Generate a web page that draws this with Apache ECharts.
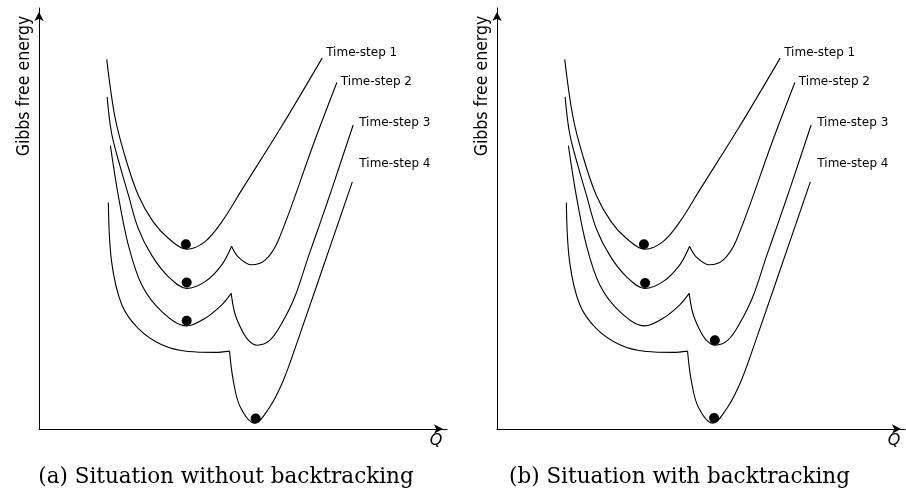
<!DOCTYPE html>
<html>
<head>
<meta charset="utf-8">
<script src="https://cdn.jsdelivr.net/npm/echarts@6/dist/echarts.min.js"></script>
<style>
html,body{margin:0;padding:0;background:#fff;}
#chart{width:906px;height:492px;}
</style>
</head>
<body>
<div id="chart"></div>
<script>
// ---- data (Q, Gibbs free energy) in arbitrary units 0..100 ----
const stepLabels = ['Time-step 1', 'Time-step 2', 'Time-step 3', 'Time-step 4'];
const captions = ['(a) Situation without backtracking', '(b) Situation with backtracking'];
const xAxisName = 'Q';
const yAxisName = 'Gibbs free energy';

const curve1 = [[16.6,87.8],[18.6,74.2],[21.1,64.7],[24.3,55.6],[28.0,49.2],[31.7,45.3],[36.2,42.7],[40.7,44.5],[44.8,49.2],[49.7,56.8],[59.1,71.3],[69.4,88.1]];

const curve2Left = [[16.7,78.9],[17.8,70.2],[19.9,62.3],[21.9,55.6],[24.3,47.7],[27.6,41.3],[31.7,36.2],[36.2,33.4],[40.7,35.0],[44.8,39.0],[47.2,43.4]];
const curve2Right = [[47.2,43.4],[48.8,40.9],[52.1,39.0],[55.4,40.1],[58.7,44.9],[67.5,68.3],[73.0,82.3]];

const curve3Left = [[17.5,67.3],[19.4,55.6],[21.9,43.7],[25.2,34.2],[30.1,27.9],[36.2,24.5],[40.7,26.3],[44.8,29.5],[47.1,32.2]];
const curve3Right = [[47.1,32.2],[48.0,27.5],[49.7,23.5],[51.3,21.1],[53.4,19.9],[56.6,21.1],[59.5,25.1],[62.7,31.4],[66.0,40.9],[68.9,48.9],[71.7,56.8],[77.0,72.2]];

const curve4Left = [[17.0,53.8],[17.8,39.7],[20.3,29.5],[24.3,23.9],[30.1,20.0],[36.6,18.4],[43.1,18.2],[46.7,18.5]];
const curve4Right = [[46.7,18.5],[47.6,11.6],[49.3,5.3],[52.9,1.4],[56.6,5.3],[59.9,11.6],[63.2,20.4],[76.8,58.7]];

const dotsA = [[36.0,43.9],[36.2,34.8],[36.2,25.7],[53.1,2.5]];
const dotsB = [[36.0,43.9],[36.3,34.7],[53.4,21.1],[53.2,2.6]];

// ---- layout / style ----
const panels = [
  {left: 39, dots: dotsA, caption: captions[0], capX: 221},
  {left: 497, dots: dotsB, caption: captions[1], capX: 674.5}
];
const labelOffsets = [[-1,-5],[-1,-1],[1,-2],[2,-18]];
const curves = [
  [curve1],
  [curve2Left, curve2Right],
  [curve3Left, curve3Right],
  [curve4Left, curve4Right]
];

const grids = [], xAxes = [], yAxes = [], series = [], titles = [];
panels.forEach(function (p, pi) {
  grids.push({left: p.left, top: 8, width: 408, height: 421, containLabel: false});
  xAxes.push({
    type: 'value', gridIndex: pi, min: 0, max: 100,
    axisLine: {show: true, onZero: false, symbol: ['none', 'arrow'], symbolSize: [7, 9], symbolOffset: [0, -4],
      lineStyle: {color: '#000', width: 1}},
    axisTick: {show: false}, axisLabel: {show: false}, splitLine: {show: false},
    name: xAxisName, nameLocation: 'end', nameGap: -11,
    nameTextStyle: {color: '#000', fontFamily: 'DejaVu Sans', fontStyle: 'italic', fontSize: 16,
      align: 'center', verticalAlign: 'top', padding: [4, 0, 0, 0]}
  });
  yAxes.push({
    type: 'value', gridIndex: pi, min: 0, max: 100,
    axisLine: {show: true, onZero: false, symbol: ['none', 'arrow'], symbolSize: [7, 9], symbolOffset: [0, -4],
      lineStyle: {color: '#000', width: 1}},
    axisTick: {show: false}, axisLabel: {show: false}, splitLine: {show: false},
    name: yAxisName, nameLocation: 'end', nameRotate: 90, nameGap: -78,
    nameTextStyle: {color: '#000', fontFamily: 'DejaVu Sans Condensed, DejaVu Sans', fontSize: 17.5,
      align: 'center', verticalAlign: 'bottom', padding: [0, 0, 6, 0]}
  });
  curves.forEach(function (segs, ci) {
    segs.forEach(function (seg, si) {
      const isLast = si === segs.length - 1;
      series.push({
        type: 'line', xAxisIndex: pi, yAxisIndex: pi, data: seg,
        name: stepLabels[ci],
        smooth: 0.35, showSymbol: false, symbol: 'none',
        lineStyle: {color: '#000', width: 1.1},
        silent: true, z: 2,
        endLabel: isLast ? {
          show: true, formatter: stepLabels[ci], distance: 5, offset: labelOffsets[ci],
          color: '#000', fontFamily: 'DejaVu Sans', fontSize: 12
        } : {show: false}
      });
    });
  });
  series.push({
    type: 'scatter', xAxisIndex: pi, yAxisIndex: pi, data: p.dots,
    symbol: 'circle', symbolSize: 10, itemStyle: {color: '#000', opacity: 1}, silent: true, z: 3
  });
  titles.push({
    text: p.caption, left: p.capX, top: 461, textAlign: 'center',
    textStyle: {color: '#000', fontFamily: 'DejaVu Serif', fontWeight: 'normal', fontSize: 21.5}
  });
});

const chart = echarts.init(document.getElementById('chart'), null, {renderer: 'canvas'});
chart.setOption({
  backgroundColor: '#fff',
  animation: false,
  title: titles,
  grid: grids,
  xAxis: xAxes,
  yAxis: yAxes,
  series: series
});
</script>
</body>
</html>
